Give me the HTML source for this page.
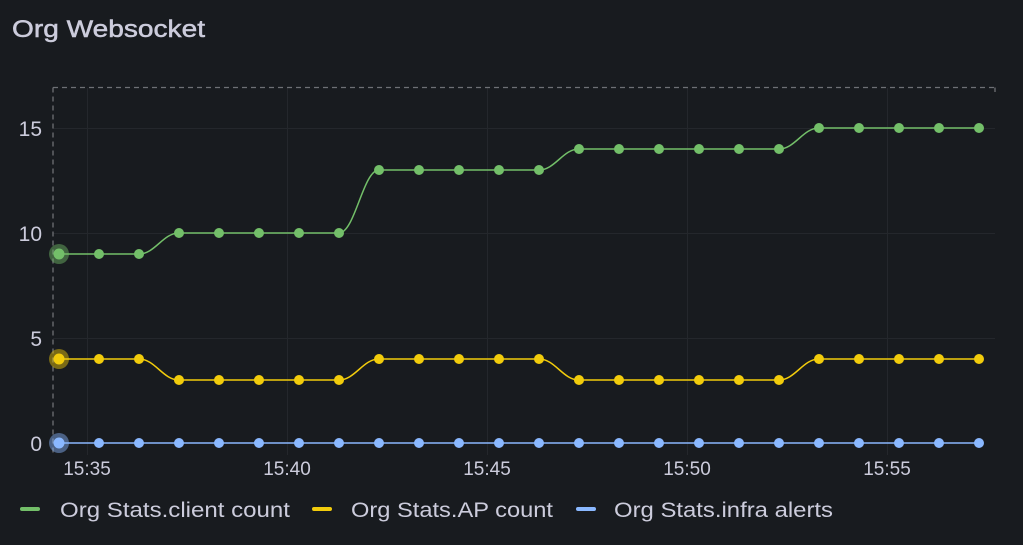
<!DOCTYPE html>
<html><head><meta charset="utf-8"><style>
html,body{margin:0;padding:0;background:#181b1f;}
body{width:1023px;height:540px;overflow:hidden;font-family:"Liberation Sans",sans-serif;}
</style></head><body>
<svg width="1023" height="540" xmlns="http://www.w3.org/2000/svg" font-family="Liberation Sans, sans-serif">
<rect width="1023" height="540" fill="#181b1f"/>
<text x="12" y="37" font-size="24" fill="#ccccdc" stroke="#ccccdc" stroke-width="0.5" textLength="193" lengthAdjust="spacingAndGlyphs">Org Websocket</text>
<g stroke="#24272c" stroke-width="1">
<line x1="53" y1="128.5" x2="995" y2="128.5"/>
<line x1="53" y1="233.5" x2="995" y2="233.5"/>
<line x1="53" y1="338.5" x2="995" y2="338.5"/>
<line x1="87.5" y1="88" x2="87.5" y2="455"/>
<line x1="287.5" y1="88" x2="287.5" y2="455"/>
<line x1="487.5" y1="88" x2="487.5" y2="455"/>
<line x1="687.5" y1="88" x2="687.5" y2="455"/>
<line x1="887.5" y1="88" x2="887.5" y2="455"/>
</g>
<g stroke="#6e7075" stroke-width="1.3" stroke-dasharray="5,4" fill="none">
<line x1="53" y1="87.5" x2="995" y2="87.5"/>
<line x1="53" y1="87.5" x2="53" y2="455"/>
<line x1="995" y1="87.5" x2="995" y2="92"/>
</g>
<g font-size="21" fill="#ccccdc" text-anchor="end">
<text x="42" y="136">15</text>
<text x="42" y="241">10</text>
<text x="42" y="346">5</text>
<text x="42" y="451">0</text>
</g>
<g font-size="19" fill="#ccccdc" text-anchor="middle">
<text x="87" y="475">15:35</text>
<text x="287" y="475">15:40</text>
<text x="487" y="475">15:45</text>
<text x="687" y="475">15:50</text>
<text x="887" y="475">15:55</text>
</g>
<path d="M59,443 L979,443" stroke="#8ab8ff" stroke-width="1.5" fill="none"/>
<path d="M59,359 L139,359 C155,359 163,380 179,380 L339,380 C355,380 363,359 379,359 L539,359 C555,359 563,380 579,380 L779,380 C795,380 803,359 819,359 L979,359" stroke="#f2cc0c" stroke-width="1.5" fill="none"/>
<path d="M59,254 L139,254 C155,254 163,233 179,233 L339,233 C355,233 363,170 379,170 L539,170 C555,170 563,149 579,149 L779,149 C795,149 803,128 819,128 L979,128" stroke="#73bf69" stroke-width="1.5" fill="none"/>
<circle cx="59" cy="254" r="10" fill="#73bf69" opacity="0.45"/>
<circle cx="59" cy="359" r="10" fill="#f2cc0c" opacity="0.45"/>
<circle cx="59" cy="443" r="10" fill="#8ab8ff" opacity="0.45"/>
<g fill="#73bf69">
<circle cx="59" cy="254" r="5.5"/><circle cx="99" cy="254" r="5"/><circle cx="139" cy="254" r="5"/>
<circle cx="179" cy="233" r="5"/><circle cx="219" cy="233" r="5"/><circle cx="259" cy="233" r="5"/><circle cx="299" cy="233" r="5"/><circle cx="339" cy="233" r="5"/>
<circle cx="379" cy="170" r="5"/><circle cx="419" cy="170" r="5"/><circle cx="459" cy="170" r="5"/><circle cx="499" cy="170" r="5"/><circle cx="539" cy="170" r="5"/>
<circle cx="579" cy="149" r="5"/><circle cx="619" cy="149" r="5"/><circle cx="659" cy="149" r="5"/><circle cx="699" cy="149" r="5"/><circle cx="739" cy="149" r="5"/><circle cx="779" cy="149" r="5"/>
<circle cx="819" cy="128" r="5"/><circle cx="859" cy="128" r="5"/><circle cx="899" cy="128" r="5"/><circle cx="939" cy="128" r="5"/><circle cx="979" cy="128" r="5"/>
</g>
<g fill="#f2cc0c">
<circle cx="59" cy="359" r="5.5"/><circle cx="99" cy="359" r="5"/><circle cx="139" cy="359" r="5"/>
<circle cx="179" cy="380" r="5"/><circle cx="219" cy="380" r="5"/><circle cx="259" cy="380" r="5"/><circle cx="299" cy="380" r="5"/><circle cx="339" cy="380" r="5"/>
<circle cx="379" cy="359" r="5"/><circle cx="419" cy="359" r="5"/><circle cx="459" cy="359" r="5"/><circle cx="499" cy="359" r="5"/><circle cx="539" cy="359" r="5"/>
<circle cx="579" cy="380" r="5"/><circle cx="619" cy="380" r="5"/><circle cx="659" cy="380" r="5"/><circle cx="699" cy="380" r="5"/><circle cx="739" cy="380" r="5"/><circle cx="779" cy="380" r="5"/>
<circle cx="819" cy="359" r="5"/><circle cx="859" cy="359" r="5"/><circle cx="899" cy="359" r="5"/><circle cx="939" cy="359" r="5"/><circle cx="979" cy="359" r="5"/>
</g>
<g fill="#8ab8ff">
<circle cx="59" cy="443" r="5.5"/><circle cx="99" cy="443" r="5"/><circle cx="139" cy="443" r="5"/><circle cx="179" cy="443" r="5"/><circle cx="219" cy="443" r="5"/><circle cx="259" cy="443" r="5"/><circle cx="299" cy="443" r="5"/><circle cx="339" cy="443" r="5"/><circle cx="379" cy="443" r="5"/><circle cx="419" cy="443" r="5"/><circle cx="459" cy="443" r="5"/><circle cx="499" cy="443" r="5"/><circle cx="539" cy="443" r="5"/><circle cx="579" cy="443" r="5"/><circle cx="619" cy="443" r="5"/><circle cx="659" cy="443" r="5"/><circle cx="699" cy="443" r="5"/><circle cx="739" cy="443" r="5"/><circle cx="779" cy="443" r="5"/><circle cx="819" cy="443" r="5"/><circle cx="859" cy="443" r="5"/><circle cx="899" cy="443" r="5"/><circle cx="939" cy="443" r="5"/><circle cx="979" cy="443" r="5"/>
</g>
<g stroke-width="4" stroke-linecap="round">
<line x1="22" y1="509" x2="38" y2="509" stroke="#73bf69"/>
<line x1="314" y1="509" x2="330" y2="509" stroke="#f2cc0c"/>
<line x1="578" y1="509" x2="594" y2="509" stroke="#8ab8ff"/>
</g>
<g font-size="21" fill="#ccccdc">
<text x="60" y="517" textLength="230" lengthAdjust="spacingAndGlyphs">Org Stats.client count</text>
<text x="351" y="517" textLength="202" lengthAdjust="spacingAndGlyphs">Org Stats.AP count</text>
<text x="614" y="517" textLength="219" lengthAdjust="spacingAndGlyphs">Org Stats.infra alerts</text>
</g>
</svg>
</body></html>
